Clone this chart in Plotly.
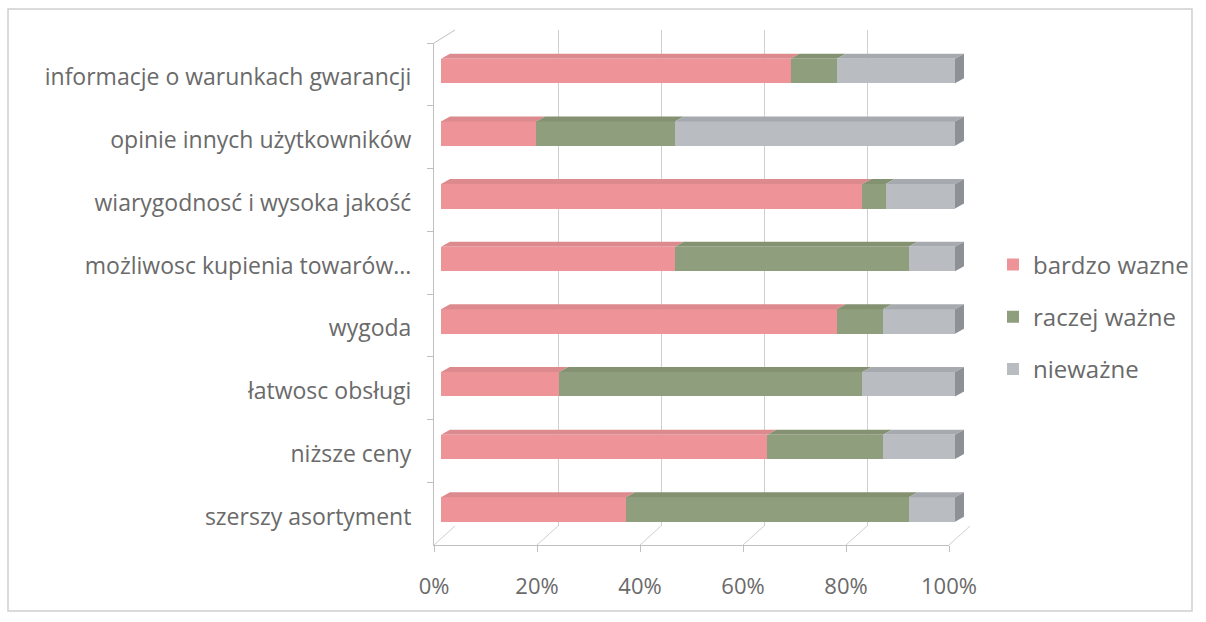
import plotly.graph_objects as go

# Survey answers per factor (percent of respondents)
categories = [
    "informacje o warunkach gwarancji",
    "opinie innych użytkowników",
    "wiarygodnosć i wysoka jakość",
    "możliwosc kupienia towarów...",
    "wygoda",
    "łatwosc obsługi",
    "niższe ceny",
    "szerszy asortyment",
]
bardzo_wazne = [68, 18.5, 82, 45.5, 77, 23, 63.5, 36]
raczej_wazne = [9, 27, 4.5, 45.5, 9, 59, 22.5, 55]
niewazne = [23, 54.5, 13.5, 9, 14, 18, 14, 9]

series_names = ["bardzo wazne", "raczej ważne", "nieważne"]
tick_values = [0, 20, 40, 60, 80, 100]
tick_labels = ["0%", "20%", "40%", "60%", "80%", "100%"]

# Styling
FRONT_COLORS = ["#ee9397", "#8f9e7d", "#b9bdc2"]
TOP_COLORS = ["#dc8a8e", "#849272", "#a6aaaf"]
SIDE_COLOR = "#8d9196"
GRID = "#cfcfcf"
AXIS = "#c0c0c0"
TEXT = "#6a6a6a"
FONT = "Open Sans"
FONT_SIZE = 23
LEGEND_FONT_SIZE = 24

W, H = 1206, 622


def fx(x):
    return x / W


def fy(y):
    return 1 - y / H


# Pseudo-3D frame geometry (pixels): front floor edge / left edge, back wall
FRONT_X0, FRONT_X1, FRONT_TOP, FRONT_BOTTOM = 434, 949, 43, 545
BACK_X0, BACK_X1, BACK_TOP, BACK_BOTTOM = 455, 970, 30, 526
BAR_X0, BAR_PX_PER_UNIT = 441, 5.14
BAR_TOP, BAR_BOTTOM = 39.7, 540.8
BAR_RANGE_MAX = 104
BAR_WIDTH = 0.39
DEPTH_DX_PX, DEPTH_DY_PX = 9, 5

positions = list(range(len(categories)))
series = [bardzo_wazne, raczej_wazne, niewazne]

fig = go.Figure()

# invisible trace so the front category axis carries the labels
fig.add_trace(go.Scatter(
    x=[0] * len(categories), y=categories, xaxis="x", yaxis="y",
    mode="markers", marker=dict(opacity=0), showlegend=False, hoverinfo="skip",
))
# invisible trace that brings up the back-wall subplot (its gridlines)
fig.add_trace(go.Scatter(
    x=[0], y=[0], xaxis="x2", yaxis="y2",
    mode="markers", marker=dict(opacity=0), showlegend=False, hoverinfo="skip",
))

for name, vals, col in zip(series_names, series, FRONT_COLORS):
    fig.add_trace(go.Bar(
        x=vals, y=positions, orientation="h", name=name,
        xaxis="x3", yaxis="y3", width=BAR_WIDTH,
        marker=dict(color=col, line=dict(width=0)),
        legendgroup=name,
    ))

shapes = []

# outer chart border
shapes.append(dict(type="rect", xref="paper", yref="paper",
                   x0=fx(8), x1=fx(1192), y0=fy(611), y1=fy(9),
                   line=dict(color="#d0d0d0", width=1.5), layer="below"))

# floor diagonals linking back-wall gridlines to the front axis ticks
span = FRONT_X1 - FRONT_X0
for v in tick_values:
    xf = FRONT_X0 + v / 100 * span
    xb = BACK_X0 + v / 100 * span
    shapes.append(dict(type="line", xref="paper", yref="paper",
                       x0=fx(xb), y0=fy(BACK_BOTTOM), x1=fx(xf), y1=fy(FRONT_BOTTOM),
                       line=dict(color=GRID, width=1), layer="below"))
# top-left corner of the side wall
shapes.append(dict(type="line", xref="paper", yref="paper",
                   x0=fx(FRONT_X0), y0=fy(FRONT_TOP), x1=fx(BACK_X0), y1=fy(BACK_TOP),
                   line=dict(color=AXIS, width=1), layer="below"))

# bar tops and end caps, in bar-axis data units
dx = DEPTH_DX_PX / BAR_PX_PER_UNIT
dy = DEPTH_DY_PX / ((BAR_BOTTOM - BAR_TOP) / len(categories))
half = BAR_WIDTH / 2
for i in positions:
    start = 0.0
    for vals, col in zip(series, TOP_COLORS):
        end = start + vals[i]
        top = i - half
        shapes.append(dict(
            type="path", xref="x3", yref="y3", layer="above",
            path=f"M{start},{top} L{start + dx},{top - dy} L{end + dx},{top - dy} L{end},{top} Z",
            fillcolor=col, line=dict(width=0),
        ))
        start = end
    shapes.append(dict(
        type="path", xref="x3", yref="y3", layer="above",
        path=(f"M{start},{i - half} L{start + dx},{i - half - dy} "
              f"L{start + dx},{i + half - dy} L{start},{i + half} Z"),
        fillcolor=SIDE_COLOR, line=dict(width=0),
    ))

fig.update_layout(
    template="none",
    width=W, height=H,
    margin=dict(l=0, r=0, t=0, b=0, autoexpand=False),
    paper_bgcolor="white",
    plot_bgcolor="rgba(0,0,0,0)",
    font=dict(family=FONT, size=FONT_SIZE, color=TEXT),
    barmode="stack",
    showlegend=True,
    legend=dict(
        x=fx(993), y=fy(317), xanchor="left", yanchor="middle",
        traceorder="grouped", tracegroupgap=18,
        font=dict(size=LEGEND_FONT_SIZE, color=TEXT), bgcolor="rgba(0,0,0,0)",
    ),
    # front axes: floor edge with % ticks, left edge with category labels
    xaxis=dict(
        domain=[fx(FRONT_X0), fx(FRONT_X1)], range=[0, 100], anchor="y",
        tickvals=tick_values, ticktext=tick_labels, tickfont=dict(size=22),
        ticks="outside", ticklen=6, tickcolor=AXIS,
        showline=True, linecolor=AXIS, showgrid=False, zeroline=False,
        ticklabelstandoff=16, fixedrange=True, automargin=False,
    ),
    yaxis=dict(
        domain=[fy(FRONT_BOTTOM), fy(FRONT_TOP)], anchor="x",
        type="category", categoryorder="array", categoryarray=categories,
        range=[len(categories) - 0.5, -0.5],
        ticks="outside", tickson="boundaries", ticklen=6, tickcolor=AXIS,
        showline=True, linecolor=AXIS, showgrid=False, zeroline=False,
        ticklabelstandoff=17, ticklabelshift=-3, fixedrange=True, automargin=False,
    ),
    # back wall with vertical gridlines
    xaxis2=dict(
        domain=[fx(BACK_X0), fx(BACK_X1)], range=[0, 100], anchor="y2",
        tickvals=tick_values, showticklabels=False, ticks="",
        showgrid=True, gridcolor=GRID, gridwidth=1,
        showline=False, zeroline=False, fixedrange=True, automargin=False,
    ),
    yaxis2=dict(
        domain=[fy(BACK_BOTTOM), fy(BACK_TOP)], range=[0, 1], anchor="x2",
        showgrid=False, showticklabels=False, ticks="", showline=False,
        zeroline=False, fixedrange=True, automargin=False,
    ),
    # bars
    xaxis3=dict(
        domain=[fx(BAR_X0), fx(BAR_X0 + BAR_PX_PER_UNIT * BAR_RANGE_MAX)],
        range=[0, BAR_RANGE_MAX], anchor="y3", visible=False, fixedrange=True,
    ),
    yaxis3=dict(
        domain=[fy(BAR_BOTTOM), fy(BAR_TOP)], range=[len(categories) - 0.5, -0.5],
        anchor="x3", visible=False, fixedrange=True,
    ),
    shapes=shapes,
)

fig.write_html("out.html")
